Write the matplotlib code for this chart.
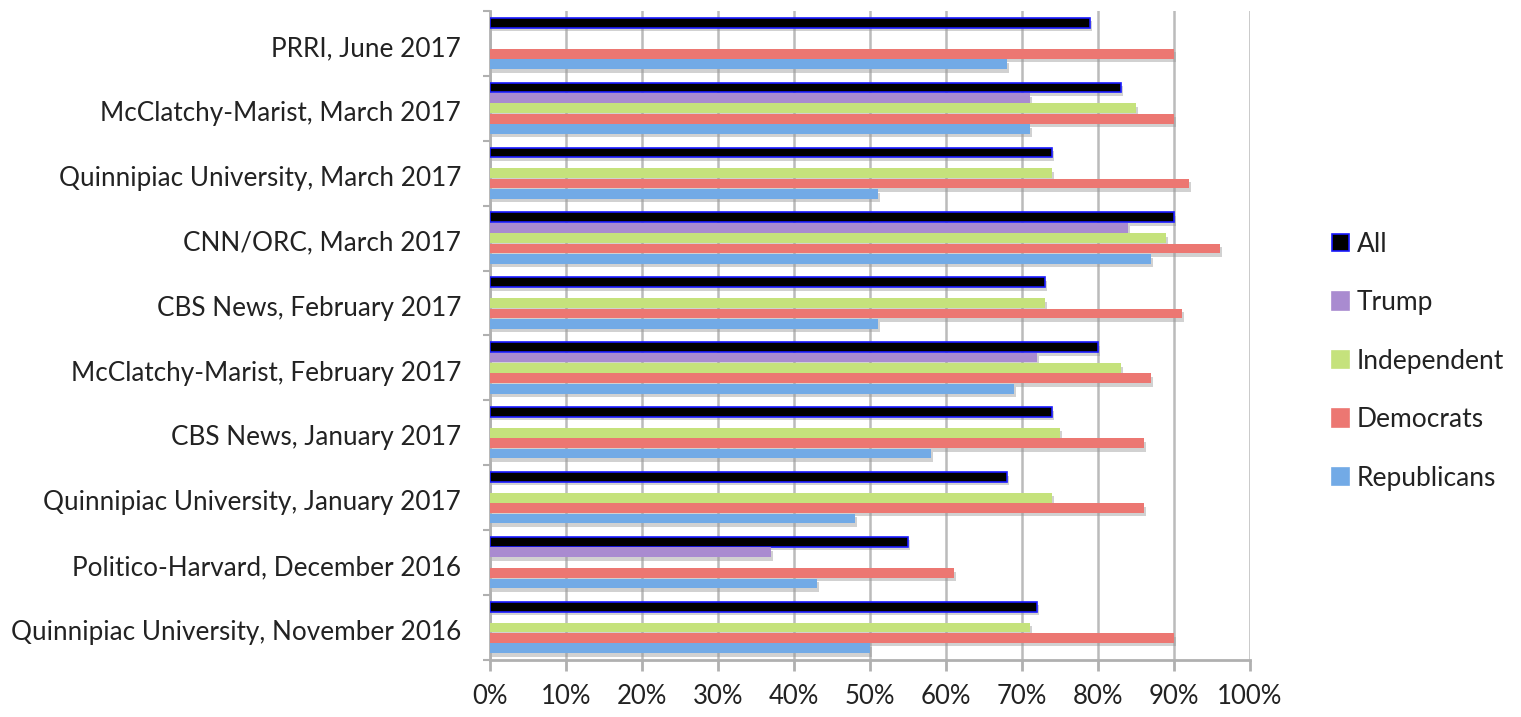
import numpy as np
import matplotlib
matplotlib.use("Agg")
import matplotlib.pyplot as plt
import matplotlib.patheffects as pe
from matplotlib.patches import Patch

plt.rcParams['font.family'] = ['Lato', 'DejaVu Sans']

# bottom to top
polls = [
    "Quinnipiac University, November 2016",
    "Politico-Harvard, December 2016",
    "Quinnipiac University, January 2017",
    "CBS News, January 2017",
    "McClatchy-Marist, February 2017",
    "CBS News, February 2017",
    "CNN/ORC, March 2017",
    "Quinnipiac University, March 2017",
    "McClatchy-Marist, March 2017",
    "PRRI, June 2017",
]

nan = np.nan
all_vals = [72, 55, 68, 74, 80, 73, 90, 74, 83, 79]
trump = [nan, 37, nan, nan, 72, nan, 84, nan, 71, nan]
independent = [71, nan, 74, 75, 83, 73, 89, 74, 85, nan]
democrats = [90, 61, 86, 86, 87, 91, 96, 92, 90, 90]
republicans = [50, 43, 48, 58, 69, 51, 87, 51, 71, 68]

series_names = ["All", "Trump", "Independent", "Democrats", "Republicans"]
series_vals = [all_vals, trump, independent, democrats, republicans]
colors = ["#000000", "#a98bd0", "#c5e27c", "#ec7772", "#72aae6"]
edges = ["#1a1aff", "none", "none", "none", "none"]

fig = plt.figure(figsize=(15.21, 7.17), dpi=100)
ax = fig.add_axes([0.3222, 0.0795, 0.4996, 0.9052])

y = np.arange(len(polls))
slot = 0.16
height = 0.15
shadow = [pe.SimplePatchShadow(offset=(1.5, -2.5), shadow_rgbFace="#999999", alpha=0.45), pe.Normal()]

for i, (vals, c, ec) in enumerate(zip(series_vals, colors, edges)):
    offs = (2 - i) * slot
    v = np.array(vals, dtype=float)
    mask = ~np.isnan(v)
    bars = ax.barh(y[mask] + offs, v[mask], height=height, color=c,
                   edgecolor=ec, linewidth=1.2 if ec != "none" else 0, zorder=3)
    for b in bars:
        b.set_path_effects(shadow)

ax.set_xlim(0, 100)
ax.set_ylim(-0.5, len(polls) - 0.5)
ax.set_xticks(np.arange(0, 101, 10))
ax.set_xticklabels([f"{t}%" for t in range(0, 101, 10)])
ax.set_yticks(y - 0.04)
ax.set_yticklabels(polls)
ax.set_yticks(np.arange(-0.5, len(polls), 1), minor=True)

ax.xaxis.grid(True, color="#bbbbbb", linewidth=1.8, zorder=0)
ax.set_axisbelow(True)

for s in ["top", "right"]:
    ax.spines[s].set_visible(False)
for s in ["left", "bottom"]:
    ax.spines[s].set_color("#b0b0b0")
    ax.spines[s].set_linewidth(2)

ax.tick_params(axis="x", length=8, width=2, color="#b0b0b0", pad=9,
               labelsize=18.5, labelcolor="#222222")
ax.tick_params(axis="y", which="major", length=0, pad=21,
               labelsize=18.8, labelcolor="#222222")
ax.tick_params(axis="y", which="minor", length=5, width=1.5, color="#b0b0b0")

handles = [Patch(facecolor=c, edgecolor=(ec if ec != "none" else c), linewidth=1.2)
           for c, ec in zip(colors, edges)]
fig.legend(handles, series_names, loc="upper left", bbox_to_anchor=(0.86, 0.71),
           frameon=False, fontsize=19, handlelength=0.65, handleheight=0.65,
           handletextpad=0.3, labelspacing=1.27, labelcolor="#222222")

fig.savefig("out.png", dpi=100)
